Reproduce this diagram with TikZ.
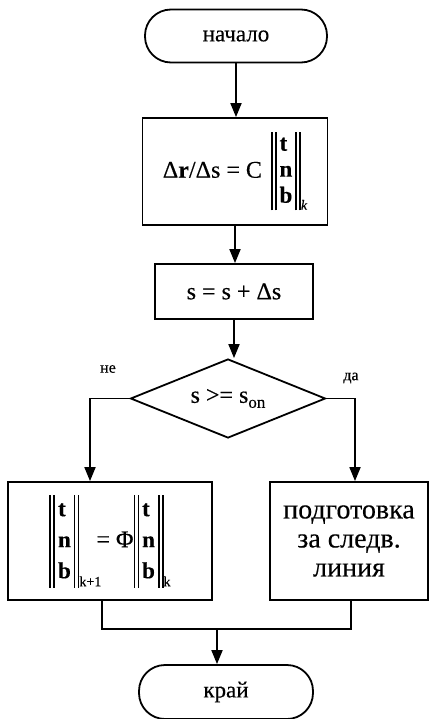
\documentclass[tikz,border=0pt]{standalone}
\usepackage{fontspec}
\setmainfont{Liberation Serif}[FakeBold=0.35]
\usetikzlibrary{shapes.geometric,arrows.meta,calc}

% a pair of thin vertical bars, as tall as the surrounding box
\newcommand{\dbar}{\vrule width 1.6pt\hspace{2.4pt}\vrule width 1.6pt}
% column vector (t, n, b) between double bars; #1 = row height
\newcommand{\tnbcol}[1]{\hbox{\dbar\hspace{3pt}$\vcenter{\hbox{\fontsize{23}{#1}\selectfont
  \begin{tabular}{@{}l@{}}\textbf{t}\\\textbf{n}\\\textbf{b}\end{tabular}}}$\hspace{3pt}\dbar}}
\newcommand{\subfoot}[2]{\raisebox{#1}{\fontsize{14}{14}\selectfont #2}}

\begin{document}
\begin{tikzpicture}[x=1pt,y=-1pt,
  every node/.style={font=\fontsize{24}{28}\selectfont},
  flow/.style={line width=1.8pt},
  arr/.style={flow,-{Triangle[length=14pt,width=11pt]}},
  term/.style={draw,flow,rectangle,rounded corners=26pt,inner sep=0pt,font=\fontsize{23}{26}\selectfont},
  proc/.style={draw,flow,rectangle,inner sep=0pt,align=center},
  decide/.style={draw,flow,diamond,inner sep=0pt,aspect=2.47},
  tag/.style={font=\fontsize{16}{16}\selectfont}]
\useasboundingbox (0,0) rectangle (430,719);

\node[term,minimum width=182pt,minimum height=53pt] (start) at (236,36) {начало};
\node[proc,minimum width=185pt,minimum height=107pt] (calc) at (235,171.5)
  {Δ\textbf{r}/Δs = C\hspace{9pt}\tnbcol{26}\subfoot{-32pt}{\itshape k}};
\node[proc,minimum width=158pt,minimum height=55pt] (step) at (234,291.5) {s = s + Δs};
\node[decide,minimum width=195pt,minimum height=79pt] (test) at (228,398.5)
  {s >= s\subfoot{-5pt}{\fontsize{17}{17}\selectfont on}};
\node[proc,minimum width=204pt,minimum height=118pt] (rot) at (110,541)
  {\tnbcol{31}\rlap{\subfoot{-39pt}{k+1}}\hspace{17pt}= Φ\tnbcol{31}\subfoot{-39pt}{k}};
\node[proc,minimum width=158pt,minimum height=118pt,font=\fontsize{28}{29}\selectfont] (prep) at (349,541)
  {подготовка\\за следв.\\линия};
\node[term,minimum width=174pt,minimum height=54pt] (stop) at (226,692) {край};

\node[tag] (no) at (108,369) {не};
\node[tag] (yes) at (351,378) {да};

% branch and merge points
\coordinate (nl) at (90,398.5);
\coordinate (nr) at (355,398.5);
\coordinate (ml) at (102,629);
\coordinate (mr) at (351,629);
\coordinate (mj) at (217,629);

\draw[arr] (start.south) -- (start.south |- calc.north);
\draw[arr] (calc.south) -- (calc.south |- step.north);
\draw[arr] (step.south) -- (step.south |- test.north);
\draw[arr] (test.west) -- (nl) -- (nl |- rot.north);
\draw[arr] (test.east) -- (nr) -- (nr |- prep.north);
\draw[flow] (rot.south -| ml) -- (ml) -- (mr) -- (prep.south -| mr);
\draw[arr] (mj) -- (mj |- stop.north);
\end{tikzpicture}
\end{document}
